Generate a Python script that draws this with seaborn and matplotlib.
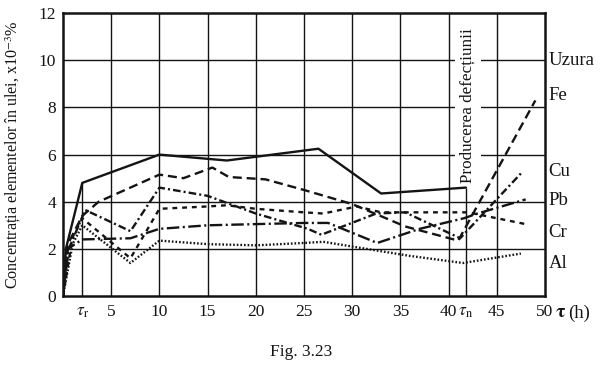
import matplotlib
matplotlib.use('Agg')
import matplotlib.pyplot as plt
import seaborn as sns

# momente caracteristice (h)
tau_r = 2.0
tau_n = 41.8

# concentratii, x10^-3 %
uzura_t = [0, 0.3, tau_r, 10, 17, 26.5, 33, tau_n]
uzura_c = [0, 2.0, 4.8, 6.0, 5.75, 6.25, 4.35, 4.6]

fe_t = [0, 0.5, 2, 3.7, 10, 12.5, 15.5, 17.2, 21, 25, 30, 33.5, 35.5, 41, 49]
fe_c = [0, 2.2, 3.4, 4.0, 5.15, 5.0, 5.45, 5.05, 4.95, 4.5, 3.9, 3.3, 2.95, 2.35, 8.3]

cu_t = [0, 0.6, 2.3, 7, 10, 15, 20, 25.4, 26.8, 32.5, 35.5, 41.2, 47.5]
cu_c = [0, 2.0, 3.65, 2.75, 4.6, 4.25, 3.5, 2.85, 2.6, 3.5, 3.55, 2.45, 5.2]

pb_t = [0, 0.5, 2, 7, 10, 15, 20, 25, 27.5, 32.6, 37, 41.6, 43, 48]
pb_c = [0, 2.0, 2.4, 2.45, 2.85, 3.0, 3.05, 3.1, 3.1, 2.25, 2.85, 3.3, 3.5, 4.1]

cr_t = [0, 1, 2, 7, 10, 15, 17, 20, 25, 27, 30.5, 33, 42, 48]
cr_c = [0, 2.5, 3.3, 1.6, 3.7, 3.8, 3.85, 3.7, 3.55, 3.5, 3.8, 3.55, 3.55, 3.05]

al_t = [0, 1, 2, 7, 10, 15, 20, 25, 27, 30, 33, 36, 41.5, 47.5]
al_c = [0, 2.2, 3.0, 1.4, 2.35, 2.2, 2.15, 2.25, 2.3, 2.1, 1.9, 1.7, 1.4, 1.8]

# etichete din dreapta (nume, pozitie y)
right_names = ['Uzura', 'Fe', 'Cu', 'Pb', 'Cr', 'Al']
right_y = [10.0, 8.5, 5.3, 4.05, 2.7, 1.4]

x_ticks = [tau_r, 5, 10, 15, 20, 25, 30, 35, 40, tau_n, 45, 50]
x_labels = [r'$\tau_\mathrm{r}$', '5', '10', '15', '20', '25', '30', '35', '40',
            r'$\tau_\mathrm{n}$', '45', '50']
y_ticks = [0, 2, 4, 6, 8, 10, 12]

sns.set_theme(style='white')
plt.rcParams['font.family'] = ['Liberation Serif', 'DejaVu Serif']
plt.rcParams['mathtext.fontset'] = 'stix'
plt.rcParams['lines.scale_dashes'] = False

ink = '#141414'
fig = plt.figure(figsize=(6.14, 3.75), dpi=100)
ax = fig.add_axes([0.1026, 0.2107, 0.785, 0.754])

# grila
for gx in range(5, 50, 5):
    ax.axvline(gx, color=ink, lw=1.0, zorder=1)
for gy in range(2, 12, 2):
    ax.axhline(gy, color=ink, lw=1.0, zorder=1)
ax.vlines(tau_r, 0, uzura_c[uzura_t.index(tau_r)], color=ink, lw=1.0, zorder=1)
ax.vlines(tau_n, 0, uzura_c[uzura_t.index(tau_n)], color=ink, lw=1.0, zorder=1)

series = [
    (uzura_t, uzura_c, '-'),
    (fe_t, fe_c, (0, (6.5, 3.5))),
    (cu_t, cu_c, (0, (5.5, 2.2, 1.5, 2.2))),
    (pb_t, pb_c, (0, (9, 2.5, 1.5, 2.5))),
    (cr_t, cr_c, (0, (3.5, 3.5))),
    (al_t, al_c, (0, (1.2, 1.4))),
]
for t, c, ls in series:
    sns.lineplot(x=t, y=c, ax=ax, color=ink, lw=1.7, linestyle=ls,
                 estimator=None, sort=False, zorder=3)

ax.text(tau_n + 0.2, 8.1, 'Producerea defecțiunii', rotation=90, ha='center', va='center',
        fontsize=12.3, color=ink, zorder=2,
        bbox=dict(boxstyle='square,pad=0.3', fc='white', ec='none'))

for name, yy in zip(right_names, right_y):
    ax.text(50.35, yy, name, ha='left', va='center', fontsize=13.5, color=ink, clip_on=False)

ax.set_xlim(0, 50)
ax.set_ylim(0, 12)
ax.set_xticks(x_ticks)
ax.set_xticklabels(x_labels)
ax.set_yticks(y_ticks)
ax.tick_params(axis='both', length=0, labelsize=12.5, colors=ink)
ax.tick_params(axis='x', pad=6)
ax.tick_params(axis='y', pad=5)
for s in ax.spines.values():
    s.set_color(ink)
    s.set_linewidth(1.8)

ax.set_ylabel('Concentrația elementelor în ulei, x10$^{-3}$%', fontsize=11.6, color=ink)
ax.yaxis.set_label_coords(-0.082, 0.5)

ax.annotate(r'$\mathbf{\tau}$', xy=(51.0, 0), xycoords=('data', 'axes fraction'),
            xytext=(0, -6), textcoords='offset points', ha='left', va='top',
            fontsize=14, color=ink, annotation_clip=False)
ax.annotate('(h)', xy=(52.4, 0), xycoords=('data', 'axes fraction'),
            xytext=(0, -6), textcoords='offset points', ha='left', va='top',
            fontsize=13.5, color=ink, annotation_clip=False)

fig.text(0.49, 0.062, 'Fig. 3.23', ha='center', va='center', fontsize=12.5, color=ink)

fig.savefig('out.png', dpi=100, facecolor='white')
plt.close(fig)
